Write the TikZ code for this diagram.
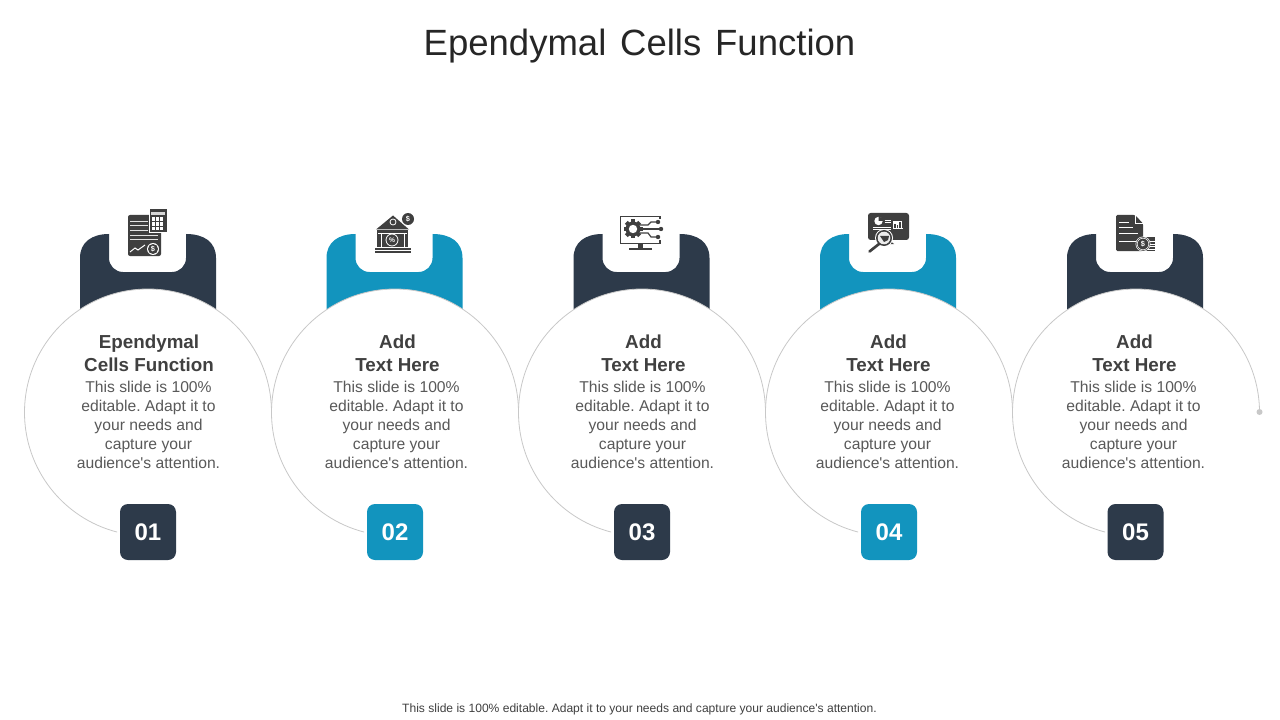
\documentclass[tikz,border=0pt]{standalone}
\usepackage{fontspec}
\setmainfont{Liberation Sans}[Ligatures=TeXOff]
\frenchspacing
\definecolor{navy}{HTML}{2D3A4A}
\definecolor{teal}{HTML}{1294BE}
\definecolor{ico}{HTML}{3F3F3F}
\definecolor{ring}{HTML}{C8C8C8}
\definecolor{bodyt}{HTML}{595959}
\definecolor{headt}{HTML}{404040}
\tikzset{
  bodytext/.style={align=center,text=bodyt,font=\fontsize{11.75}{14.25}\selectfont,inner sep=0pt,anchor=north},
  headtext/.style={align=center,text=headt,font=\fontsize{14.1}{17.25}\selectfont\bfseries,inner sep=0pt,anchor=south},
  numbox/.style={rectangle,rounded corners=6pt,minimum size=42pt,inner sep=0pt,text=white,font=\fontsize{18}{20}\selectfont\bfseries},
  ringline/.style={draw=ring,line width=0.6pt},
  wl/.style={draw=white,line width=0.75pt},
  coin/.style={text=white,font=\fontsize{5.5}{6}\selectfont\bfseries,inner sep=0pt}
}
\newcommand{\tabshape}[2]{%
  \begin{scope}[shift={(#1,0)}]
    \fill[#2] (0,320) -- (0,258) .. controls (0,242) and (12,234) .. (29,234)
      -- (29,258) arc[start angle=180,end angle=90,radius=14]
      -- (92,272) arc[start angle=90,end angle=0,radius=14]
      -- (106,234) .. controls (124,234) and (136,242) .. (136,258) -- (136,320) -- cycle;
  \end{scope}}
\newcommand{\ringarc}[2]{%
  \fill[white] (#1,412.5) circle[radius=123.5];
  \draw[ringline] (#2,412.5) arc[start angle=0,end angle=-255.5,radius=123.5];}
\begin{document}
\begin{tikzpicture}[x=0.75pt,y=-0.75pt]
\useasboundingbox (0,0) rectangle (1280,720);
\fill[white] (0,0) rectangle (1280,720);
\node[text=black!85,font=\fontsize{27.4}{32}\selectfont,inner sep=0pt] (title) at (639.5,46.5) {Ependymal\hspace{0.1em} Cells\hspace{0.1em} Function};

\tabshape{80}{navy}\tabshape{326.5}{teal}\tabshape{573.5}{navy}\tabshape{820}{teal}\tabshape{1067}{navy}
\ringarc{148}{271.5}\ringarc{395}{518.5}\ringarc{642}{765.5}\ringarc{889}{1012.5}\ringarc{1136}{1259.5}
\fill[ring] (1259.5,412) circle[radius=3];

\node[numbox,fill=navy] (n1) at (148,532) {01};
\node[numbox,fill=teal] (n2) at (395,532) {02};
\node[numbox,fill=navy] (n3) at (642,532) {03};
\node[numbox,fill=teal] (n4) at (889,532) {04};
\node[numbox,fill=navy] (n5) at (1135.5,532) {05};

\node[headtext] (h1) at (149,371.5) {Ependymal\\Cells Function};
\node[headtext] (h2) at (397.5,371.5) {Add\\Text Here};
\node[headtext] (h3) at (643.5,371.5) {Add\\Text Here};
\node[headtext] (h4) at (888.5,371.5) {Add\\Text Here};
\node[headtext] (h5) at (1134.5,371.5) {Add\\Text Here};
\foreach \x/\nm in {148.5/b1,396.5/b2,642.5/b3,887.5/b4,1133.5/b5}{
  \node[bodytext] (\nm) at (\x,381) {This slide is 100\%\\editable. Adapt it to\\your needs and\\capture your\\audience's attention.};
}
\node[text=headt,font=\fontsize{9.05}{11}\selectfont,inner sep=0pt] (foot) at (639.5,709) {This slide is 100\% editable. Adapt it to your needs and capture your audience's attention.};

% icon 1
\fill[ico,rounded corners=1.5pt] (128,215) rectangle (161,256);
\foreach \y in {222,226,231}{\draw[white!85!ico,line width=0.75pt] (130,\y) -- (148,\y);}
\foreach \y in {236,240}{\draw[white!85!ico,line width=0.75pt] (130,\y) -- (158,\y);}
\draw[wl] (130,252) -- (135,248) -- (138,250) -- (145,245);
\fill[white] (153,249) circle[radius=6];
\fill[ico] (153,249) circle[radius=5];
\node[coin] (c1) at (153,249) {\$};
\fill[ico,draw=white,line width=0.75pt] (149,209) rectangle (167,233);
\fill[white!80!ico] (151,212) rectangle (165,215);
\foreach \i in {0,1,2}{\foreach \j in {0,1,2}{\fill[white] (152.2+4*\i,217.5+4.8*\j) rectangle +(3,3.4);}}

% icon 2
\fill[ico] (376,229.5) -- (393,215.5) -- (409,229.5) -- cycle;
\draw[white,line width=0.6pt] (393,222) circle[radius=3];
\fill[ico] (377,230.5) rectangle (408,247);
\draw[white,line width=0.5pt] (378,233) -- (407,233) (381,233) -- (381,247) (404,233) -- (404,247);
\fill[ico] (375,247.5) rectangle (411,250);
\fill[ico] (375,250.8) rectangle (411,253);
\draw[white,line width=0.6pt] (392,240) circle[radius=6];
\node[coin,font=\fontsize{5}{6}\selectfont\bfseries] (p2) at (392,240) {\%};
\fill[white] (408,219) circle[radius=7];
\fill[ico] (408,219) circle[radius=6];
\node[coin] (c2) at (408,219) {\$};

% icon 3
\draw[ico,line width=1.3pt] (620.5,216.5) rectangle (660,243.5);
\fill[ico] (638,244) rectangle (642.5,248);
\fill[ico] (629,248) -- (652,248) -- (652,250) -- (629,250) -- cycle;
\fill[white] (656,219) rectangle (662,240);
\foreach \a in {0,45,...,315}{\fill[ico,rotate around={\a:(633,229)}] (631,219.5) rectangle (635,223);}
\fill[ico] (633,229) circle[radius=7.5];
\fill[white] (633,229) circle[radius=4.2];
\draw[ico,line width=0.9pt] (640,225) -- (648,225) -- (651,222) -- (658,222);
\draw[ico,line width=0.9pt] (641,229) -- (661,229);
\draw[ico,line width=0.9pt] (640,233) -- (648,233) -- (651,237) -- (658,237);
\fill[ico] (658,222) circle[radius=2.2] (661,229) circle[radius=2.2] (658,237) circle[radius=2.2];

% icon 4
\fill[ico,rounded corners=2pt] (868,213) rectangle (909,240);
\fill[white] (878.5,221) circle[radius=4.2];
\fill[ico] (878.5,221) -- (878.5,216.5) -- (883.2,218.5) -- (883.2,221) -- cycle;
\foreach \y in {220,222.5}{\draw[white,line width=0.5pt] (884.5,\y) -- (891,\y);}
\foreach \y in {227,229.5}{\draw[white,line width=0.5pt] (873,\y) -- (891,\y);}
\fill[white] (893,221) rectangle (903,229);
\foreach \x/\h in {894.3/4,896.8/3,899.3/6,901.5/7}{\fill[ico] (\x,228.5) rectangle ++(1.2,-\h);}
\fill[ico] (889,240) -- (894,244) -- (886,244) -- cycle;
\fill[white] (884,238) circle[radius=9];
\fill[ico] (884,238) circle[radius=8];
\fill[white!90!ico] (884,238) circle[radius=6.3];
\fill[ico] (880,236) -- (889,236) -- (888,240) -- (884,242) -- cycle;
\draw[ico,line width=2pt,line cap=round] (879,244) -- (869.5,251.5);

% icon 5
\fill[ico,rounded corners=1pt] (1116,215) -- (1135,215) -- (1143,223.5) -- (1143,251) -- (1116,251) -- cycle;
\draw[white,line width=0.5pt] (1135,215) -- (1135,223.5) -- (1143,223.5);
\foreach \y/\e in {222/1129,227/1133,233/1138,241/1138}{\draw[wl,line width=0.6pt] (1119,\y) -- (\e,\y);}
\foreach \y in {237,239.5,242,244.5,247,249.5}{\fill[ico] (1144,\y) rectangle (1155,\y+1.6);}
\fill[white] (1143,244) circle[radius=7.5];
\fill[ico] (1143,244) circle[radius=6.8];
\draw[white,line width=0.4pt] (1143,244) circle[radius=5.8];
\node[coin] (c5) at (1143,244) {\$};
\end{tikzpicture}
\end{document}
